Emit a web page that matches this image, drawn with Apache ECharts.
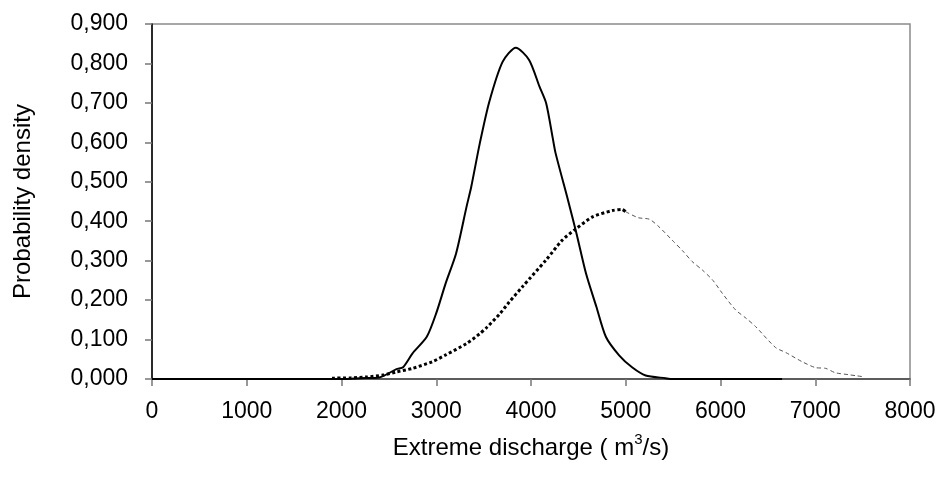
<!DOCTYPE html>
<html><head><meta charset="utf-8">
<script src="https://cdn.jsdelivr.net/npm/echarts@6/dist/echarts.min.js"></script>
<style>html,body{margin:0;padding:0;background:#fff}#c{width:937px;height:478px}</style>
</head><body><div id="c"></div>
<script>
// Solid curve (x: discharge m3/s, y: probability density)
const solidX = [0,1000,2000,2200,2400,2580,2650,2750,2900,3000,3100,3210,3320,3370,3460,3560,3700,3840,3980,4090,4160,4230,4260,4390,4480,4580,4690,4790,4930,5070,5210,5420,5490,6650];
const solidY = [0,0,0,0.002,0.004,0.025,0.030,0.065,0.107,0.167,0.243,0.319,0.437,0.488,0.598,0.703,0.804,0.840,0.809,0.741,0.699,0.610,0.572,0.454,0.369,0.268,0.183,0.107,0.060,0.029,0.009,0.002,0,0];
// Dashed curve
const dashX = [1900,2100,2260,2440,2580,2750,2960,3100,3320,3460,3530,3670,3770,3910,4160,4330,4460,4650,4860,4960,5000,5130,5250,5350,5490,5600,5700,5810,5920,6020,6160,6270,6370,6580,6690,6860,7000,7110,7210,7350,7440,7500];
const dashY = [0.002,0.003,0.005,0.010,0.018,0.027,0.044,0.061,0.090,0.115,0.130,0.165,0.195,0.234,0.302,0.352,0.378,0.411,0.427,0.430,0.424,0.409,0.405,0.386,0.352,0.325,0.298,0.276,0.250,0.217,0.175,0.154,0.133,0.080,0.067,0.044,0.029,0.027,0.016,0.011,0.008,0.006];
const dashSplit = 5000; // where the dashed curve turns from dotted black to thin gray dashes

const xTitle = 'Extreme discharge';
const yTitle = 'Probability density';

const solid = solidX.map((x,i)=>[x, solidY[i]]);
const dashAll = dashX.map((x,i)=>[x, dashY[i]]);
const dashA = dashAll.filter(p=>p[0] <= dashSplit);
const dashB = dashAll.filter(p=>p[0] >= dashSplit);

const FONT = 'Liberation Sans, Arial, sans-serif';
const chart = echarts.init(document.getElementById('c'), null, {renderer:'canvas'});
chart.setOption({
  animation:false,
  backgroundColor:'#fff',
  grid:{left:152, right:27, top:24, bottom:99, containLabel:false, outerBoundsMode:'none', show:true, borderColor:'#8a8a8a', borderWidth:1.5, backgroundColor:'transparent'},
  xAxis:{
    type:'value', min:0, max:8000, interval:1000,
    name:'{t|' + xTitle + ' ( m}{s|3}{t|/s)}', nameLocation:'middle', nameGap:53,
    nameTextStyle:{rich:{t:{fontFamily:FONT,fontSize:24,color:'#000',verticalAlign:'bottom',lineHeight:28},s:{fontFamily:FONT,fontSize:15,color:'#000',verticalAlign:'top',lineHeight:28,padding:[0,0,14,0]}}},
    axisLine:{show:true, onZero:false, lineStyle:{color:'#444', width:1.5}},
    axisTick:{show:true, inside:false, length:7, lineStyle:{color:'#777', width:1.5}},
    axisLabel:{margin:21, fontFamily:FONT, fontSize:23, color:'#000', formatter:v=>String(v)},
    splitLine:{show:false}
  },
  yAxis:{
    type:'value', min:0, max:0.9, interval:0.1,
    name:yTitle, nameLocation:'middle', nameGap:117, nameRotate:90,
    nameTextStyle:{fontFamily:FONT, fontSize:24, color:'#000'},
    axisLine:{show:true, onZero:false, lineStyle:{color:'#000', width:1.5}},
    axisTick:{show:true, inside:false, length:7, lineStyle:{color:'#777', width:1.5}},
    axisLabel:{margin:24, fontFamily:FONT, fontSize:23, color:'#000', formatter:v=>v.toFixed(3).replace('.', ',')},
    splitLine:{show:false}
  },
  series:[
    {type:'line', data:solid, showSymbol:false, symbol:'none', smooth:0.25, lineStyle:{color:'#000', width:2}, z:3},
    {type:'line', data:dashA, showSymbol:false, symbol:'none', smooth:0.25, lineStyle:{color:'#000', width:3, type:[3,2.5]}, z:2},
    {type:'line', data:dashB, showSymbol:false, symbol:'none', smooth:0.25, lineStyle:{color:'#555', width:1, type:[4,3]}, z:2}
  ]
});
</script></body></html>
